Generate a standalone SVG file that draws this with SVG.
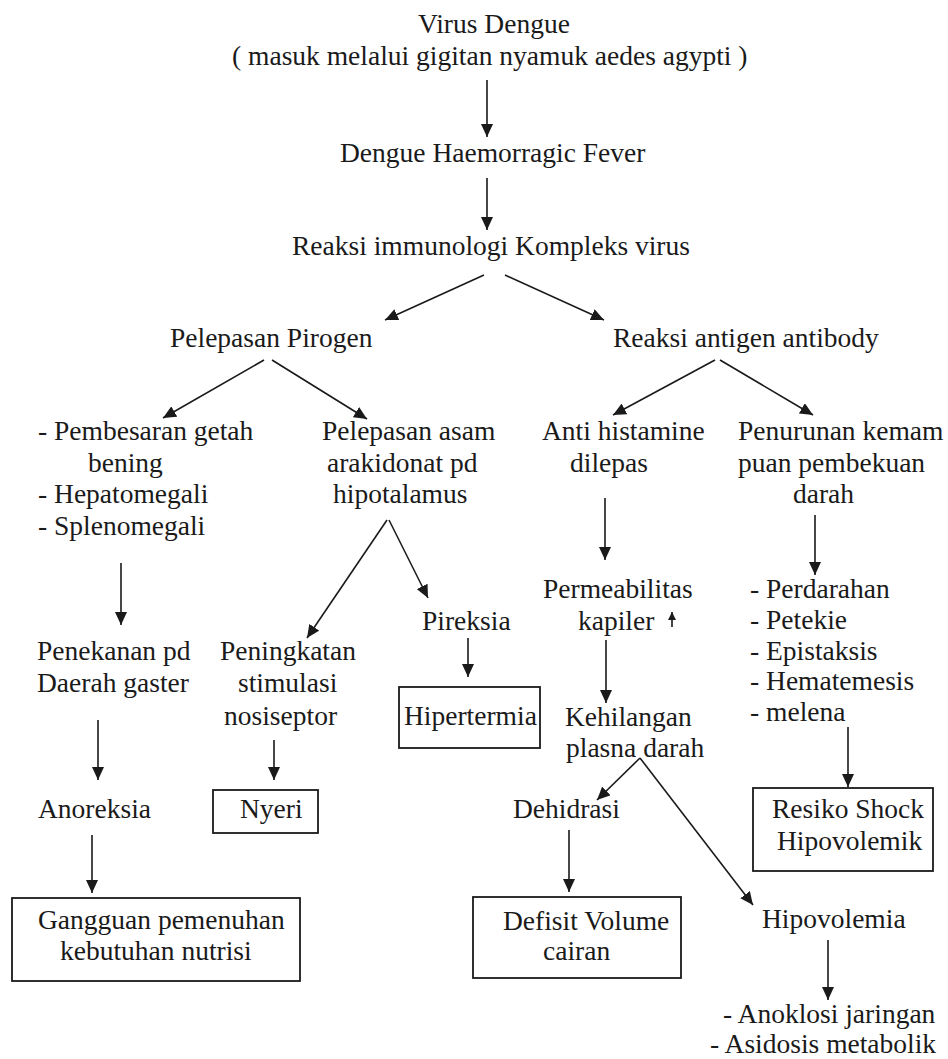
<svg xmlns="http://www.w3.org/2000/svg" width="948" height="1059" viewBox="0 0 948 1059">
<style>
text{font-family:'Liberation Serif','Times New Roman',Times,'DejaVu Serif',serif;font-size:27.5px;fill:#1a1a1a}
.c line{stroke:#1a1a1a;stroke-width:1.6;marker-end:url(#ah)}
.c line.s{marker-end:url(#ahs)}
.box{fill:none;stroke:#1a1a1a;stroke-width:1.8}
</style>
<defs>
<marker id="ah" markerUnits="userSpaceOnUse" markerWidth="14" markerHeight="12" refX="13" refY="6" orient="auto">
<path d="M0,0 L13,6 L0,12 z" fill="#1a1a1a"/>
</marker>
<marker id="ahs" markerUnits="userSpaceOnUse" markerWidth="9" markerHeight="8" refX="8" refY="4" orient="auto">
<path d="M0,0 L8,4 L0,8 z" fill="#1a1a1a"/>
</marker>
</defs>
<rect width="948" height="1059" fill="#fff"/>
<g class="c" id="connectors">
<line x1="487" y1="80" x2="487" y2="137"/>
<line x1="487" y1="178" x2="487" y2="230"/>
<line x1="484" y1="275" x2="385" y2="320"/>
<line x1="505" y1="275" x2="604" y2="320"/>
<line x1="264" y1="360" x2="163" y2="418"/>
<line x1="272" y1="360" x2="367" y2="419"/>
<line x1="121" y1="563" x2="121" y2="625"/>
<line x1="387" y1="520" x2="307" y2="638"/>
<line x1="389" y1="520" x2="428" y2="598"/>
<line x1="468" y1="638" x2="468" y2="677"/>
<line x1="274" y1="740" x2="274" y2="780"/>
<line x1="98" y1="720" x2="98" y2="780"/>
<line x1="92" y1="835" x2="92" y2="893"/>
<line x1="715" y1="360" x2="613" y2="415"/>
<line x1="720" y1="360" x2="813" y2="415"/>
<line x1="605" y1="498" x2="605" y2="560"/>
<line x1="815" y1="515" x2="815" y2="575"/>
<line class="s" x1="672" y1="627" x2="672" y2="612"/>
<line x1="606" y1="640" x2="606" y2="703"/>
<line x1="640" y1="758" x2="597" y2="800"/>
<line x1="640" y1="758" x2="753" y2="905"/>
<line x1="569" y1="830" x2="569" y2="892"/>
<line x1="848" y1="727" x2="848" y2="787"/>
<line x1="828" y1="940" x2="828" y2="1000"/>
</g>
<g id="virus"><text x="418" y="33">Virus Dengue</text><text x="232" y="65">( masuk melalui gigitan nyamuk aedes agypti )</text></g>
<g id="dhf"><text x="340" y="162">Dengue Haemorragic Fever</text></g>
<g id="reaksi-imun"><text x="292" y="255">Reaksi immunologi Kompleks virus</text></g>
<g id="pirogen"><text x="170" y="347">Pelepasan Pirogen</text></g>
<g id="antigen"><text x="613" y="347">Reaksi antigen antibody</text></g>
<g id="pembesaran"><text x="38" y="440">- Pembesaran getah</text><text x="88" y="472">bening</text><text x="38" y="503">- Hepatomegali</text><text x="38" y="535">- Splenomegali</text></g>
<g id="arakidonat"><text x="322" y="440">Pelepasan asam</text><text x="327" y="472">arakidonat pd</text><text x="333" y="503">hipotalamus</text></g>
<g id="histamine"><text x="542" y="440">Anti histamine</text><text x="570" y="472">dilepas</text></g>
<g id="pembekuan"><text x="738" y="440">Penurunan kemam</text><text x="738" y="472">puan pembekuan</text><text x="793" y="503">darah</text></g>
<g id="permeabilitas"><text x="543" y="598">Permeabilitas</text><text x="578" y="630">kapiler</text></g>
<g id="perdarahan"><text x="750" y="598">- Perdarahan</text><text x="750" y="629">- Petekie</text><text x="750" y="660">- Epistaksis</text><text x="750" y="690">- Hematemesis</text><text x="750" y="721">- melena</text></g>
<g id="pireksia"><text x="422" y="630">Pireksia</text></g>
<g id="penekanan"><text x="37" y="660">Penekanan pd</text><text x="37" y="692">Daerah gaster</text></g>
<g id="peningkatan"><text x="220" y="660">Peningkatan</text><text x="238" y="692">stimulasi</text><text x="224" y="725">nosiseptor</text></g>
<g id="hipertermia"><rect class="box" x="399" y="687" width="141" height="61"/><text x="404" y="725">Hipertermia</text></g>
<g id="kehilangan"><text x="565" y="726">Kehilangan</text><text x="566" y="757">plasna darah</text></g>
<g id="nyeri"><rect class="box" x="213" y="790" width="105" height="43"/><text x="240" y="818">Nyeri</text></g>
<g id="anoreksia"><text x="38" y="818">Anoreksia</text></g>
<g id="dehidrasi"><text x="513" y="818">Dehidrasi</text></g>
<g id="resiko"><rect class="box" x="753" y="788" width="180" height="83"/><text x="772" y="818">Resiko Shock</text><text x="777" y="850">Hipovolemik</text></g>
<g id="gangguan"><rect class="box" x="12" y="898" width="288" height="83"/><text x="38" y="929">Gangguan pemenuhan</text><text x="60" y="960">kebutuhan nutrisi</text></g>
<g id="defisit"><rect class="box" x="473" y="897" width="208" height="81"/><text x="503" y="930">Defisit Volume</text><text x="543" y="960">cairan</text></g>
<g id="hipovolemia"><text x="762" y="928">Hipovolemia</text></g>
<g id="anoklosi"><text x="723" y="1023">- Anoklosi jaringan</text><text x="710" y="1053">-  Asidosis metabolik</text></g>
</svg>
